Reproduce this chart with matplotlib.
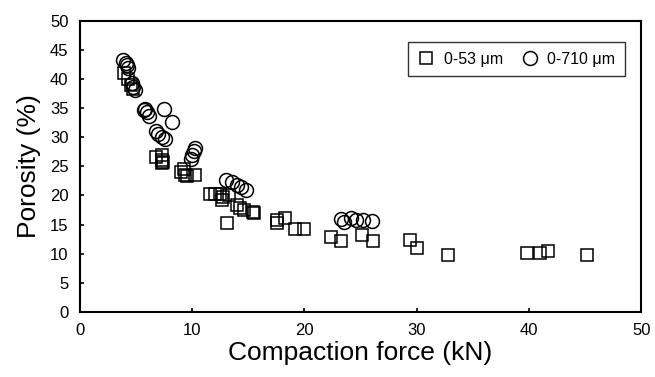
import matplotlib
matplotlib.use('Agg')
import matplotlib.pyplot as plt

# Porosity vs compaction force
# 0-53 um powder (squares)
force_53 = [4.0, 4.3, 4.6, 4.8,
            6.8, 7.3, 7.3, 7.4, 7.3,
            9.0, 9.3, 9.4, 9.6, 10.3,
            11.65, 12.1, 12.5, 12.8, 12.7, 13.3, 14.0, 14.3, 14.6, 15.4, 15.5, 13.1,
            17.6, 17.6, 18.3, 19.2, 20.0,
            22.4, 23.3, 25.1, 26.1, 29.4, 30.0, 32.8,
            39.8, 41.0, 41.7, 45.2]
porosity_53 = [41.0, 40.0, 39.0, 38.3,
               26.6, 27.0, 26.0, 25.8, 25.6,
               24.0, 24.6, 23.5, 23.3, 23.5,
               20.3, 20.2, 20.2, 19.7, 19.2, 20.0, 18.3, 17.8, 17.5, 17.2, 16.9, 15.2,
               15.8, 15.2, 16.2, 14.3, 14.3,
               12.9, 12.2, 13.2, 12.2, 12.3, 10.9, 9.8,
               10.2, 10.2, 10.4, 9.8]

# 0-710 um powder (circles)
force_710 = [3.9, 4.1, 4.2, 4.3, 4.66, 4.8, 4.95,
             5.7, 5.85, 6.0, 6.15, 7.5, 8.2,
             6.8, 7.0, 7.3, 7.6,
             9.9, 10.0, 10.2, 10.3,
             13.0, 13.6, 14.0, 14.4, 14.8,
             23.3, 23.5, 24.2, 24.6, 25.2, 26.0]
porosity_710 = [43.2, 42.7, 42.3, 41.9, 39.2, 38.6, 38.1,
                34.6, 34.9, 34.3, 33.7, 34.9, 32.6,
                31.0, 30.6, 30.0, 29.6,
                26.3, 26.9, 27.7, 28.2,
                22.6, 22.3, 21.7, 21.5, 20.9,
                16.0, 15.5, 16.1, 15.8, 15.7, 15.6]

plt.rcParams['font.family'] = ['Liberation Sans', 'DejaVu Sans']

fig = plt.figure(figsize=(6.55, 3.77), dpi=100)
ax = fig.add_axes([0.1214, 0.1724, 0.8576, 0.7732])

ax.plot(force_53, porosity_53, linestyle='none', marker='s', markersize=8.5,
        markerfacecolor='none', markeredgecolor='black', markeredgewidth=1.1,
        label='0-53 \u03bcm')
ax.plot(force_710, porosity_710, linestyle='none', marker='o', markersize=10,
        markerfacecolor='none', markeredgecolor='black', markeredgewidth=1.1,
        label='0-710 \u03bcm')

ax.set_xlim(0, 50)
ax.set_ylim(0, 50)
ax.set_xticks(range(0, 51, 10))
ax.set_yticks(range(0, 51, 5))
ax.tick_params(direction='in', length=3, width=1.2, labelsize=12, pad=8)
for s in ax.spines.values():
    s.set_linewidth(1.5)

ax.set_xlabel('Compaction force (kN)', fontsize=19, labelpad=2)
ax.set_ylabel('Porosity (%)', fontsize=19, labelpad=6)

leg = ax.legend(loc='upper right', bbox_to_anchor=(0.971, 0.926), borderaxespad=0,
                ncol=2, fontsize=11.5, frameon=True, fancybox=False,
                handlelength=1.0, handletextpad=0.6, columnspacing=1.2,
                borderpad=0.6)
leg.get_frame().set_edgecolor('black')
leg.get_frame().set_linewidth(1.0)

fig.savefig('out.png', dpi=100)
